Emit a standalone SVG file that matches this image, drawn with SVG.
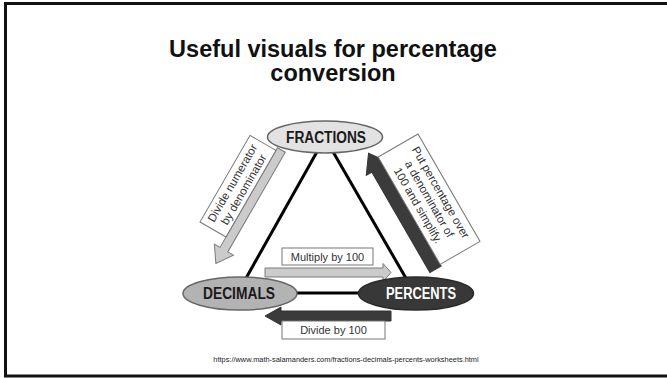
<svg xmlns="http://www.w3.org/2000/svg" width="667" height="378" viewBox="0 0 667 378">
  <style>
    .title { font-family: "Liberation Sans", Arial, sans-serif; font-weight: bold; font-size: 23.5px; fill: #111; text-anchor: middle; }
    .node-label { font-family: "Liberation Sans", Arial, sans-serif; font-weight: bold; font-size: 16px; text-anchor: middle; }
    .note { font-family: "Liberation Sans", Arial, sans-serif; font-size: 11px; fill: #333; text-anchor: middle; }
    .note-lg { font-family: "Liberation Sans", Arial, sans-serif; font-size: 11.5px; fill: #333; text-anchor: middle; }
    .box { fill: #fff; stroke: #777; stroke-width: 1; }
    .edge { stroke: #000; stroke-width: 3; fill: none; }
    .light-arrow { fill: #cbcbcb; stroke: #7a7a7a; stroke-width: 1; }
    .dark-arrow { fill: #3b3b3b; stroke: #333; stroke-width: 1; }
    .url { font-family: "Liberation Sans", Arial, sans-serif; font-size: 7.4px; fill: #222; text-anchor: middle; }
  </style>

  <rect width="667" height="378" fill="#fff"/>
  <!-- slide frame (open on the right) -->
  <path d="M 670 3.5 H 5.5 V 376 H 670" fill="none" stroke="#111" stroke-width="3"/>

  <text class="title" x="333" y="57">Useful visuals for percentage</text>
  <text class="title" x="333" y="81">conversion</text>

  <!-- triangle edges between the three forms -->
  <g id="connectors">
    <line class="edge" x1="318" y1="150" x2="245" y2="280"/>
    <line class="edge" x1="332" y1="150" x2="407" y2="280"/>
    <line class="edge" x1="290" y1="293" x2="366" y2="293"/>

    <!-- fractions to decimals -->
    <g id="conv-frac-dec" transform="translate(200,222) rotate(-60)">
      <path class="light-arrow" d="M 103 30 L -12 30 L -12 23.5 L -28 34.5 L -12 45.5 L -12 39 L 103 39 Z"/>
      <rect class="box" x="0" y="0" width="100" height="30"/>
      <text class="note-lg" x="50" y="12.5">Divide numerator</text>
      <text class="note-lg" x="50" y="25.5">by denominator</text>
    </g>

    <!-- percents to fractions -->
    <g id="conv-pct-frac" transform="translate(418,134) rotate(60)">
      <path class="dark-arrow" d="M 126 46 L 10 46 L 10 39.5 L -8 52.5 L 10 65.5 L 10 59 L 126 59 Z"/>
      <rect class="box" x="0" y="0" width="124" height="46"/>
      <text class="note-lg" x="62" y="13.5">Put percentage over</text>
      <text class="note-lg" x="62" y="26.5">a denominator of</text>
      <text class="note-lg" x="62" y="39.5">100 and simplify.</text>
    </g>

    <!-- decimals to percents -->
    <g id="conv-dec-pct">
      <rect class="box" x="282" y="248" width="91" height="17"/>
      <text class="note" x="327.5" y="261">Multiply by 100</text>
      <path class="light-arrow" d="M 265 268 L 383 268 L 383 263.5 L 391 272.5 L 383 281.5 L 383 277 L 265 277 Z"/>
    </g>

    <!-- percents to decimals -->
    <g id="conv-pct-dec">
      <path class="dark-arrow" d="M 391 311 L 281 311 L 281 307 L 265 316 L 281 325 L 281 321 L 391 321 Z"/>
      <rect class="box" x="282" y="321" width="103" height="18"/>
      <text class="note" x="333.5" y="334">Divide by 100</text>
    </g>
  </g>

  <g id="fractions">
    <ellipse cx="325" cy="137" rx="57.5" ry="16" fill="#e2e2e2" stroke="#666" stroke-width="1.5"/>
    <text class="node-label" x="326" y="142.5" fill="#1a1a1a" textLength="80" lengthAdjust="spacingAndGlyphs">FRACTIONS</text>
  </g>

  <g id="decimals">
    <ellipse cx="240" cy="293.5" rx="57" ry="16.5" fill="#b3b3b3" stroke="#666" stroke-width="1.5"/>
    <text class="node-label" x="239" y="299" fill="#1a1a1a" textLength="72" lengthAdjust="spacingAndGlyphs">DECIMALS</text>
  </g>

  <g id="percents">
    <ellipse cx="416" cy="293.5" rx="57.5" ry="16.5" fill="#383838" stroke="#2a2a2a" stroke-width="1.5"/>
    <text class="node-label" x="421" y="299" fill="#fff" textLength="70" lengthAdjust="spacingAndGlyphs">PERCENTS</text>
  </g>

  <text class="url" x="346" y="362">https://www.math-salamanders.com/fractions-decimals-percents-worksheets.html</text>
</svg>
